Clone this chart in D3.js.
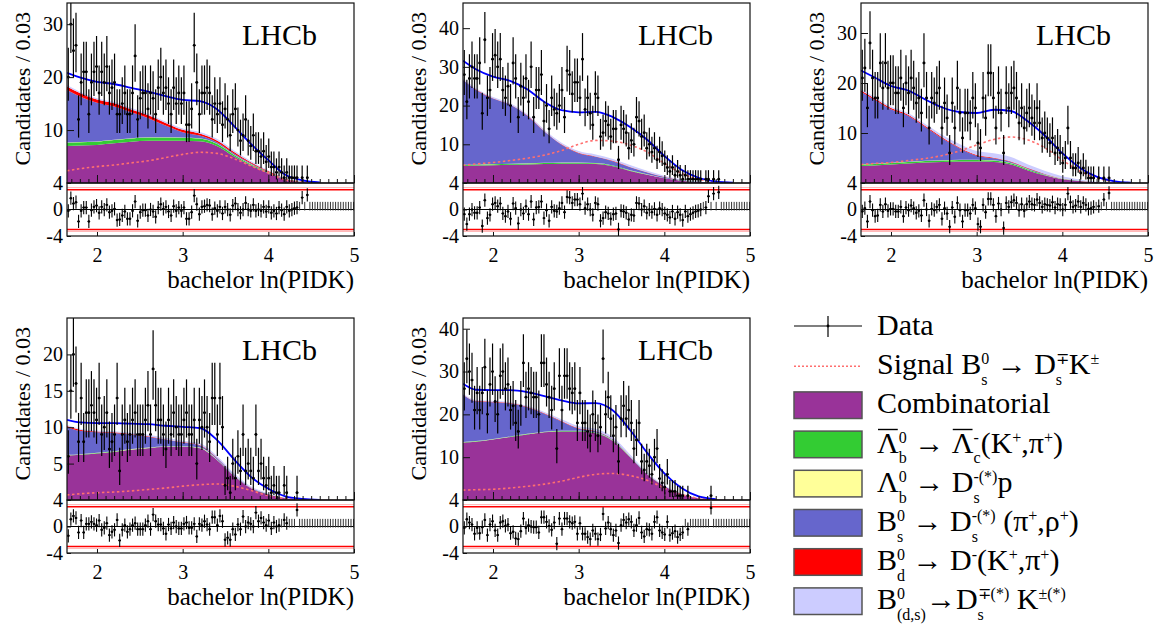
<!DOCTYPE html>
<html><head><meta charset="utf-8">
<script src="https://cdn.jsdelivr.net/npm/d3@7"></script>
<style>
body{margin:0;background:#fff;}
svg{display:block;}
text{font-family:"Liberation Serif","Times New Roman",serif;fill:#000;white-space:pre;}
</style>
</head><body>
<svg id="c" width="1160" height="625"></svg>
<script>
// ---------------- DATA ----------------
const xMin = 1.65, xMax = 5.0, binWidth = 0.03;
const xTicks = [2, 3, 4, 5];
const resTicks = [4, 0, -4];
const pullLines = [3, -3];
const gridX = [1.65, 1.8, 2.0, 2.2, 2.4, 2.6, 2.8, 3.0, 3.2, 3.4, 3.6, 3.8, 4.0, 4.2, 4.4, 4.6, 4.8, 5.0];

// Panel 1 fit components (Candidates / 0.03 at gridX)
const comb1   = [7.0, 7.1, 7.2, 7.5, 7.8, 8.0, 8.0, 8.0, 7.9, 7.0, 5.0, 3.3, 1.9, 0.7, 0.2, 0.05, 0, 0];
const lamc1   = [0.6, 0.6, 0.6, 0.6, 0.6, 0.6, 0.6, 0.55, 0.5, 0.4, 0.3, 0.2, 0.12, 0.05, 0.02, 0, 0, 0];
const lamds1  = [0.05, 0.05, 0.05, 0.05, 0.05, 0.05, 0.05, 0.05, 0.05, 0.05, 0.05, 0.03, 0.02, 0.01, 0, 0, 0, 0];
const bsdspi1 = [9.9, 8.6, 7.3, 6.3, 4.9, 3.6, 2.2, 1.0, 0.5, 0.25, 0.2, 0.15, 0.1, 0.05, 0.02, 0, 0, 0];
const bddk1   = [0.7, 0.65, 0.6, 0.6, 0.55, 0.55, 0.5, 0.45, 0.4, 0.35, 0.3, 0.2, 0.12, 0.05, 0.02, 0, 0, 0];
const dsk1    = [0.25, 0.25, 0.25, 0.25, 0.25, 0.25, 0.25, 0.25, 0.3, 0.3, 0.3, 0.25, 0.15, 0.08, 0.03, 0, 0, 0];
const sig1    = [2.3, 2.7, 3.1, 3.4, 3.8, 4.2, 4.8, 5.4, 5.8, 5.6, 4.6, 3.2, 1.9, 0.6, 0.2, 0.05, 0, 0];

// Panel 2
const comb2   = [4.4, 4.5, 4.6, 4.7, 4.8, 4.9, 5.0, 5.0, 4.9, 4.3, 3.1, 2.1, 1.2, 0.6, 0.25, 0.07, 0.02, 0];
const lamc2   = [0.25, 0.25, 0.25, 0.25, 0.25, 0.25, 0.25, 0.25, 0.22, 0.2, 0.15, 0.1, 0.06, 0.03, 0.01, 0, 0, 0];
const lamds2  = [0.05, 0.05, 0.05, 0.05, 0.05, 0.05, 0.05, 0.05, 0.05, 0.05, 0.05, 0.04, 0.02, 0.01, 0, 0, 0, 0];
const bsdspi2 = [21.9, 19.3, 16.9, 15.2, 12.3, 8.1, 4.6, 2.4, 1.6, 1.1, 0.8, 0.5, 0.3, 0.15, 0.05, 0, 0, 0];
const bddk2   = [0.1, 0.1, 0.1, 0.1, 0.1, 0.1, 0.1, 0.1, 0.1, 0.08, 0.06, 0.04, 0.02, 0.01, 0, 0, 0, 0];
const dsk2    = [0.3, 0.3, 0.3, 0.3, 0.3, 0.35, 0.4, 0.45, 0.5, 0.5, 0.5, 0.4, 0.3, 0.15, 0.05, 0.02, 0, 0];
const sig2    = [4.6, 4.9, 5.3, 5.8, 6.4, 7.2, 8.4, 10.0, 11.0, 10.8, 9.8, 8.0, 5.1, 2.5, 1.0, 0.3, 0.05, 0];

// Panel 3
const comb3   = [3.4, 3.5, 3.7, 3.9, 4.1, 4.2, 4.3, 4.3, 4.2, 3.7, 2.5, 1.5, 0.75, 0.4, 0.15, 0.04, 0, 0];
const lamc3   = [0.3, 0.3, 0.3, 0.3, 0.3, 0.3, 0.3, 0.3, 0.28, 0.25, 0.2, 0.12, 0.06, 0.03, 0.01, 0, 0, 0];
const lamds3  = [0.05, 0.05, 0.05, 0.05, 0.05, 0.05, 0.05, 0.05, 0.05, 0.05, 0.05, 0.03, 0.02, 0.01, 0, 0, 0, 0];
const bsdspi3 = [14.5, 12.9, 10.7, 9.2, 6.75, 4.35, 2.3, 0.8, 0.4, 0.2, 0.15, 0.1, 0.05, 0.02, 0, 0, 0, 0];
const bddk3   = [0.25, 0.25, 0.25, 0.2, 0.2, 0.2, 0.15, 0.15, 0.12, 0.1, 0.08, 0.05, 0.03, 0.01, 0, 0, 0, 0];
const dsk3    = [0.3, 0.3, 0.3, 0.35, 0.4, 0.5, 0.7, 0.8, 0.9, 0.9, 0.7, 0.6, 0.45, 0.25, 0.1, 0.03, 0, 0];
const sig3    = [3.7, 3.9, 4.1, 4.5, 4.9, 5.5, 6.4, 7.6, 8.7, 9.2, 8.6, 7.0, 4.6, 2.4, 1.0, 0.3, 0.05, 0];

// Panel 4
const comb4   = [6.1, 6.2, 6.4, 6.6, 6.9, 7.1, 7.3, 7.3, 7.1, 5.5, 3.3, 1.6, 0.8, 0.25, 0.07, 0.02, 0, 0];
const lamc4   = [0.05, 0.05, 0.05, 0.05, 0.05, 0.05, 0.05, 0.05, 0.05, 0.04, 0.03, 0.02, 0.01, 0, 0, 0, 0, 0];
const lamds4  = [0.05, 0.05, 0.05, 0.05, 0.05, 0.05, 0.05, 0.05, 0.05, 0.04, 0.03, 0.02, 0.01, 0, 0, 0, 0, 0];
const bsdspi4 = [3.8, 3.2, 2.8, 2.5, 2.0, 1.5, 0.9, 0.5, 0.3, 0.2, 0.1, 0.05, 0.02, 0, 0, 0, 0, 0];
const bddk4   = [0.15, 0.15, 0.1, 0.1, 0.08, 0.06, 0.05, 0.05, 0.04, 0.03, 0.02, 0.01, 0, 0, 0, 0, 0, 0];
const dsk4    = [0.15, 0.15, 0.15, 0.15, 0.15, 0.2, 0.2, 0.2, 0.25, 0.25, 0.2, 0.15, 0.1, 0.05, 0.02, 0, 0, 0];
const sig4    = [0.7, 0.85, 1.0, 1.1, 1.25, 1.45, 1.65, 1.9, 2.1, 2.2, 1.9, 1.3, 0.6, 0.2, 0.06, 0.01, 0, 0];

// Panel 5
const comb5   = [13.4, 13.6, 14.1, 14.7, 15.3, 15.8, 16.0, 16.0, 15.6, 13.8, 10.0, 6.0, 3.2, 1.4, 0.4, 0.1, 0, 0];
const lamc5   = [0.1, 0.1, 0.1, 0.1, 0.1, 0.1, 0.1, 0.1, 0.1, 0.08, 0.06, 0.04, 0.02, 0.01, 0, 0, 0, 0];
const lamds5  = [0.05, 0.05, 0.05, 0.05, 0.05, 0.05, 0.05, 0.05, 0.05, 0.05, 0.04, 0.03, 0.02, 0.01, 0, 0, 0, 0];
const bsdspi5 = [11.0, 9.3, 8.6, 7.7, 6.2, 4.2, 2.2, 0.5, 0.3, 0.2, 0.1, 0.05, 0.02, 0, 0, 0, 0, 0];
const bddk5   = [0.1, 0.1, 0.1, 0.1, 0.1, 0.1, 0.1, 0.1, 0.08, 0.06, 0.04, 0.03, 0.02, 0.01, 0, 0, 0, 0];
const dsk5    = [0.2, 0.2, 0.2, 0.2, 0.25, 0.3, 0.4, 0.5, 0.5, 0.5, 0.4, 0.25, 0.15, 0.08, 0.03, 0, 0, 0];
const sig5    = [2.3, 2.4, 2.5, 2.8, 3.2, 3.7, 4.4, 5.3, 6.0, 6.2, 5.7, 4.6, 2.8, 1.3, 0.4, 0.1, 0, 0];

// Data: counts per 0.03 bin, starting at ln(PIDK) = 1.65
const data1 = [20,30,25,26,12,19,21,21,13,19, 21,22,17,21,19,22,17,18,19,13, 13,15,17,13,13,17,24,12,16,17,
  17,14,17,16,13,18,20,17,18,15, 13,18,15,17,15,17,11,11,14,26, 19,13,17,17,18,17,12,15,13,15,
  11,14,12,9,13,14,10,8,9,12, 8,7,9,6,6,5,6,4,5,3, 3,2,3,2,1,2,1,1,1,1, 0,1,0,1];
const data2 = [28,21,27,30,27,27,31,18,37,22, 24,32,33,30,32,24,22,25,20,31, 27,17,25,22,27,21,30,17,24,24,
  28,16,20,14,22,19,18,20,24,17, 29,28,23,26,26,22,32,19,22,18, 15,23,22,12,13,16,15,12,14,14,
  6,15,14,13,9,11,10,17,16,12, 13,9,10,8,9,6,8,7,5,4, 3,4,2,3,2,1,2,1,1,1, 1,1,1,0,1,1,0,1,0,1];
const data3 = [21,23,15,28,21,17,17,24,19,24, 19,20,20,18,18,21,15,20,18,21, 19,16,17,14,24,17,11,17,16,18,
  19,11,16,13,6,16,11,19,14,9, 14,14,12,17,15,8,7,17,13,22, 22,17,11,18,14,6,18,15,18,19,
  17,12,15,11,14,15,13,12,15,12, 9,10,9,8,9,6,7,6,4,5, 11,5,3,3,4,2,3,2,1,1, 1,0,1,0,1,0,1];
const data4 = [6,15,20,16,8,14,8,12,12,13, 12,11,14,9,10,12,7,8,9,14, 4,9,11,8,9,11,12,9,9,9,
  11,13,9,18,13,11,11,9,7,11, 9,12,10,9,9,11,12,9,9,11, 5,11,10,12,10,8,14,14,9,14,
  10,2,3,1,5,3,6,4,9,4, 5,4,3,9,4,5,3,2,3,1, 2,1,1,0,2,1,0,0,0,1];
const data5 = [26,33,30,28,21,25,21,25,31,20, 27,30,23,20,29,30,26,27,21,22, 18,16,22,32,24,26,25,24,24,20,
  32,32,27,24,21,26,12,29,21,29, 29,26,25,26,18,25,18,18,16,15, 20,18,15,17,33,20,24,19,15,17,
  9,19,22,19,21,18,12,14,18,9, 7,9,8,6,10,12,5,4,3,6, 2,2,2,1,1,1,0,1,0,0, 0,0,0,0,0,0,1];

// Pulls per bin (null = empty bin)
const pull1 = [-0.2,1.7,0.9,1.1,-1.8,-0.2,0.3,0.3,-1.8,-0.1, 0.4,0.6,-0.5,0.4,0,0.7,-0.4,-0.2,0.1,-1.6,
  -1.5,-0.9,-0.3,-1.4,-1.4,-0.2,1.2,-1.7,-0.4,-0.1, -0.1,-0.9,0,-0.3,-1.1,0.3,0.8,0.1,0.4,-0.3,
  -0.9,0.5,-0.2,0.3,-0.2,0.3,-1.4,-1.4,-0.4,2.1, 0.8,-0.7,0.4,0.5,0.7,0.6,-0.7,0.2,-0.2,0.4,
  -0.6,0.4,0,-0.8,0.6,0.9,0,-0.5,0,1.0, 0,-0.2,0.7,-0.2,0,-0.2,0.4,-0.3,0.4,-0.5,
  -0.2,-0.6,0.3,-0.1,-0.7,0.4,-0.2,0,0.2,0.3, null,1.8,null,2.2,null,null,null,null,null,null,
  null,null,null,null,null,null,null,null,null,null, null,null];
const pull2 = [-0.7,-2.2,-0.7,0,-0.5,-0.5,0.3,-2.5,1.4,-1.3, -0.8,0.8,1.0,0.5,0.9,-0.6,-1.0,-0.3,-1.4,0.9,
  0.2,-2.1,0,-0.6,0.5,-0.7,1.2,-1.5,0.3,0.4, 1.2,-1.3,-0.1,-1.7,0.4,-0.2,-0.3,0.2,1.0,-0.4,
  1.9,1.8,1.0,1.5,1.5,0.8,2.4,0.2,0.8,0, -0.8,1.0,0.8,-1.7,-1.3,-0.4,-0.6,-1.4,-0.7,-0.6,
  -3.0,-0.2,-0.3,-0.5,-1.5,-0.8,-0.9,1.0,0.9,0, 0.5,-0.5,0,-0.4,0.1,-0.8,0.2,0,-0.6,-0.8,
  -1.2,-0.3,-1.4,-0.4,-0.8,-1.6,-0.3,-1.0,-0.7,-0.5, -0.3,-0.2,0,null,0.3,2.0,null,2.4,null,2.6,
  null,null,null,null,null,null,null,null,null,null, null,null];
const pull3 = [-0.3,0.2,-1.8,1.2,-0.1,-1.0,-0.9,0.7,-0.3,0.8, -0.2,0.1,0.1,-0.3,-0.3,0.4,-1.0,0.3,-0.1,0.6,
  0.2,-0.5,-0.2,-0.9,1.4,0,-1.7,0.1,-0.1,0.4, 0.7,-1.4,0.2,-0.6,-2.6,0.3,-1.1,1.0,-0.1,-1.8,
  -0.1,-0.1,-0.6,0.7,0.2,-2.2,-2.6,0.7,-0.4,1.6, 1.6,0.7,-1.0,0.9,0,-2.8,1.0,0.4,1.1,1.4,
  1.0,-0.1,0.8,-0.2,0.8,1.2,0.8,0.7,1.5,1.0, 0.4,0.8,0.7,0.6,1.1,0.3,0.8,0.7,0,0.7,
  2.4,1.1,0.4,0.6,1.2,0.4,1.0,0.7,0.1,0.2, 0.4,null,0.5,null,1.5,null,2.5,null,null,null,
  null,null,null,null,null,null,null,null,null,null, null,null];
const pull4 = [-1.4,1.1,1.6,1.3,-0.9,0.9,-0.9,0.4,0.4,0.7, 0.4,0.2,0.9,-0.5,-0.2,0.5,-1.3,-0.8,-0.5,1.0,
  -2.1,-0.5,0.2,-0.8,-0.4,0.2,0.5,-0.4,-0.4,-0.4, 0.2,0.8,-0.4,1.8,0.8,0.3,0.3,-0.3,-1.1,0.3,
  -0.3,0.6,0,-0.3,-0.3,0.4,0.6,-0.2,-0.2,0.4, -1.5,0.4,0.2,0.8,0.3,-0.4,1.4,1.4,0.2,1.6,
  0.8,-2.0,-1.7,-2.0,-0.4,-1.2,0.3,-0.4,1.5,0, 0.6,0.4,0,2.1,0.8,1.3,0.6,0.2,0.9,-0.3,
  0.6,0,0.2,null,1.0,0.5,null,null,null,2.5, null,null,null,null,null,null,null,null,null,null,
  null,null,null,null,null,null,null,null,null,null, null,null];
const pull5 = [-0.2,1.1,0.6,0.3,-1.1,-0.2,-1.0,-0.1,1.0,-1.3, 0.3,0.8,-0.6,-1.3,0.6,0.8,0.1,0.3,-1.0,-0.8,
  -1.8,-1.9,-0.7,1.2,-0.2,0.2,0,-0.1,-0.1,-0.9, 1.4,1.4,0.7,0.1,-0.5,0.6,-2.6,1.2,-0.4,1.2,
  1.2,0.7,0.5,0.7,-1.1,0.5,-1.1,-1.1,-1.6,-1.9, -0.6,-1.1,-1.9,-1.2,1.9,-0.3,0.6,-0.4,-1.3,-0.6,
  -2.5,0.2,1.0,0.6,1.1,0.7,-0.6,0.2,1.3,-0.9, -1.5,-0.4,-0.5,-1.1,0.7,1.4,-0.6,-0.9,-1.2,0.7,
  -1.3,-1.0,-0.7,-1.6,-1.2,-0.9,null,-0.4,null,null, null,null,null,null,null,null,2.8,null,null,null,
  null,null,null,null,null,null,null,null,null,null, null,null];

const yMaxes = [34, 46.5, 36, 25, 42.5];
const yTickSets = [[10, 20, 30], [10, 20, 30, 40], [10, 20, 30], [5, 10, 15, 20], [10, 20, 30, 40]];

const compKeys = ['comb', 'lamc', 'lamds', 'bsdspi', 'bddk', 'dsk'];
const compColors = {comb: '#993399', lamc: '#33cc33', lamds: '#ffff99', bsdspi: '#6666cc', bddk: '#ff0000', dsk: '#ccccff'};

const panels = [
  {col: 0, row: 0, comb: comb1, lamc: lamc1, lamds: lamds1, bsdspi: bsdspi1, bddk: bddk1, dsk: dsk1, sig: sig1, data: data1, pull: pull1},
  {col: 1, row: 0, comb: comb2, lamc: lamc2, lamds: lamds2, bsdspi: bsdspi2, bddk: bddk2, dsk: dsk2, sig: sig2, data: data2, pull: pull2},
  {col: 2, row: 0, comb: comb3, lamc: lamc3, lamds: lamds3, bsdspi: bsdspi3, bddk: bddk3, dsk: dsk3, sig: sig3, data: data3, pull: pull3},
  {col: 0, row: 1, comb: comb4, lamc: lamc4, lamds: lamds4, bsdspi: bsdspi4, bddk: bddk4, dsk: dsk4, sig: sig4, data: data4, pull: pull4},
  {col: 1, row: 1, comb: comb5, lamc: lamc5, lamds: lamds5, bsdspi: bsdspi5, bddk: bddk5, dsk: dsk5, sig: sig5, data: data5, pull: pull5}
];

// legend
const legendLabels = [
  [["Data", "n"]],
  [["Signal B", "n"], [["0", "s"], "ss"], [" \u2192 D", "n"], [["\u2213", "s"], "ss"], ["K", "n"], ["\u00b1", "sup"]],
  [["Combinatorial", "n"]],
  [["\u039b", "ol"], [["0", "b"], "ss"], [" \u2192 ", "n"], ["\u039b", "ol"], [["-", "c"], "ss"], ["(K", "n"], ["+", "sup"], [",\u03c0", "n"], ["+", "sup"], [")", "n"]],
  [["\u039b", "n"], [["0", "b"], "ss"], [" \u2192 D", "n"], [["-(*)", "s"], "ss"], ["p", "n"]],
  [["B", "n"], [["0", "s"], "ss"], [" \u2192 D", "n"], [["-(*)", "s"], "ss"], [" (\u03c0", "n"], ["+", "sup"], [",\u03c1", "n"], ["+", "sup"], [")", "n"]],
  [["B", "n"], [["0", "d"], "ss"], [" \u2192 D", "n"], ["-", "sup"], ["(K", "n"], ["+", "sup"], [",\u03c0", "n"], ["+", "sup"], [")", "n"]],
  [["B", "n"], [["0", "(d,s)"], "ss"], ["\u2192D", "n"], [["\u2213(*)", "s"], "ss"], [" K", "n"], ["\u00b1(*)", "sup"]]
];
const legendKinds = ['data', 'signal', 'comb', 'lamc', 'lamds', 'bsdspi', 'bddk', 'dsk'];

// ---------------- LAYOUT ----------------
const W = 287;
const cols = [67, 463, 861];
const rows = [{top: 3, mainH: 180, resH: 53}, {top: 318, mainH: 182, resH: 53}];
const FONT = '"Liberation Serif","Times New Roman",serif';

const svg = d3.select('#c');
const defs = svg.append('defs');

panels.forEach((p, pi) => {
  const L = rows[p.row], x0 = cols[p.col];
  const top = L.top, mb = top + L.mainH, rb = mb + L.resH;
  const x = d3.scaleLinear([xMin, xMax], [x0, x0 + W]);
  const y = d3.scaleLinear([0, yMaxes[pi]], [mb, top]);
  const r = d3.scaleLinear([-4, 4], [rb, mb]);
  const g = svg.append('g');

  defs.append('clipPath').attr('id', 'cm' + pi).append('rect')
    .attr('x', x0).attr('y', top).attr('width', W).attr('height', L.mainH);
  defs.append('clipPath').attr('id', 'cr' + pi).append('rect')
    .attr('x', x0).attr('y', mb).attr('width', W).attr('height', L.resH);

  // stacked fit components
  const recs = gridX.map((gx, i) => {
    const o = {x: gx};
    compKeys.forEach(k => o[k] = p[k][i]);
    return o;
  });
  const series = d3.stack().keys(compKeys)(recs);
  const area = d3.area()
    .x(d => x(d.data.x)).y0(d => y(d[0])).y1(d => y(d[1]))
    .curve(d3.curveMonotoneX);
  const gm = g.append('g').attr('clip-path', `url(#cm${pi})`);
  series.forEach(s => {
    gm.append('path').attr('d', area(s)).attr('fill', compColors[s.key]);
  });

  const line = d3.line().x(d => x(d[0])).y(d => y(d[1]))
    .defined(d => d[1] > 0.001).curve(d3.curveMonotoneX);
  // signal
  gm.append('path')
    .attr('d', line(gridX.map((gx, i) => [gx, p.sig[i]])))
    .attr('fill', 'none').attr('stroke', '#ff6f6f').attr('stroke-width', 1.6)
    .attr('stroke-dasharray', '2.5,2.5');
  // total fit
  const topSeries = series[series.length - 1];
  gm.append('path')
    .attr('d', line(gridX.map((gx, i) => [gx, topSeries[i][1] + p.sig[i]])))
    .attr('fill', 'none').attr('stroke', '#0000ff').attr('stroke-width', 1.8);

  // data points
  const gd = gm.append('g').attr('stroke', '#000').attr('stroke-width', 1.2);
  p.data.forEach((n, k) => {
    if (!(n > 0)) return;
    const lo = xMin + binWidth * k, hi = lo + binWidth, c = lo + binWidth / 2;
    const up = Math.sqrt(n + 0.75) + 1, dn = Math.sqrt(n - 0.25);
    gd.append('line').attr('x1', x(c)).attr('x2', x(c)).attr('y1', y(n - dn)).attr('y2', y(n + up));
    gd.append('line').attr('x1', x(lo)).attr('x2', x(hi)).attr('y1', y(n)).attr('y2', y(n));
    gd.append('circle').attr('cx', x(c)).attr('cy', y(n)).attr('r', 1.4).attr('fill', '#000').attr('stroke', 'none');
  });

  // residual panel
  const gr = g.append('g').attr('clip-path', `url(#cr${pi})`);
  pullLines.forEach(v => {
    gr.append('line').attr('x1', x0).attr('x2', x0 + W).attr('y1', r(v)).attr('y2', r(v))
      .attr('stroke', '#ff0000').attr('stroke-width', 1.5);
    gr.append('line').attr('x1', x0).attr('x2', x0 + W).attr('y1', r(v) + (v < 0 ? 2 : -2)).attr('y2', r(v) + (v < 0 ? 2 : -2))
      .attr('stroke', '#ffb0b0').attr('stroke-width', 1);
  });
  gr.append('line').attr('x1', x0).attr('x2', x0 + W).attr('y1', r(0)).attr('y2', r(0))
    .attr('stroke', '#000').attr('stroke-width', 1.2);
  const gp = gr.append('g').attr('stroke', '#000').attr('stroke-width', 1.1);
  p.pull.forEach((v, k) => {
    const lo = xMin + binWidth * k, hi = lo + binWidth, c = lo + binWidth / 2;
    if (v === null) {
      gp.append('line').attr('x1', x(c)).attr('x2', x(c)).attr('y1', r(-0.15)).attr('y2', r(1.15))
        .attr('stroke', '#333').attr('stroke-width', 1);
      return;
    }
    gp.append('line').attr('x1', x(c)).attr('x2', x(c)).attr('y1', r(v - 1)).attr('y2', r(v + 1));
    gp.append('line').attr('x1', x(lo)).attr('x2', x(hi)).attr('y1', r(v)).attr('y2', r(v));
    gp.append('circle').attr('cx', x(c)).attr('cy', r(v)).attr('r', 1.2).attr('fill', '#000').attr('stroke', 'none');
  });

  // frames
  g.append('rect').attr('x', x0).attr('y', top).attr('width', W).attr('height', L.mainH)
    .attr('fill', 'none').attr('stroke', '#111').attr('stroke-width', 1.2);
  g.append('rect').attr('x', x0).attr('y', mb).attr('width', W).attr('height', L.resH)
    .attr('fill', 'none').attr('stroke', '#111').attr('stroke-width', 1.2);

  const styleAxis = a => {
    a.select('.domain').remove();
    a.attr('font-family', FONT).attr('font-size', 20);
    a.selectAll('.tick line').attr('stroke', '#111');
  };
  // main x ticks (inward)
  g.append('g').attr('transform', `translate(0,${mb})`)
    .call(d3.axisBottom(x).tickValues(x.ticks(40)).tickSize(-4).tickFormat(''))
    .call(styleAxis);
  g.append('g').attr('transform', `translate(0,${mb})`)
    .call(d3.axisBottom(x).tickValues(xTicks).tickSize(-8).tickFormat(''))
    .call(styleAxis);
  // residual x axis with labels
  g.append('g').attr('transform', `translate(0,${rb})`)
    .call(d3.axisBottom(x).tickValues(xTicks).tickSizeInner(-4).tickSizeOuter(0).tickPadding(12).tickFormat(d3.format('d')))
    .call(styleAxis);
  // main y axis
  g.append('g').attr('transform', `translate(${x0},0)`)
    .call(d3.axisLeft(y).tickValues(yTickSets[pi]).tickSize(-7).tickPadding(4))
    .call(styleAxis);
  // residual y axis
  g.append('g').attr('transform', `translate(${x0},0)`)
    .call(d3.axisLeft(r).tickValues(resTicks).tickSize(-4).tickPadding(4).tickFormat(d => String(d)))
    .call(styleAxis);

  // titles
  g.append('text').attr('x', x0 + W).attr('y', rb + 52).attr('text-anchor', 'end')
    .attr('font-size', 25).text('bachelor ln(PIDK)');
  g.append('text').attr('transform', `translate(${x0 - 37},${top + 9}) rotate(-90)`)
    .attr('text-anchor', 'end').attr('font-size', 22).text('Candidates / 0.03');
  g.append('text').attr('x', x0 + W - 37).attr('y', top + 42).attr('text-anchor', 'end')
    .attr('font-size', 30).text('LHCb');
});

// ---------------- LEGEND ----------------
function rich(parent, x, yb, segs, size) {
  let cx = x;
  const small = 16;
  const supDy = -10, subDy = 10.8;
  segs.forEach(([t, mode]) => {
    if (mode === 'n' || mode === 'ol') {
      const el = parent.append('text').attr('x', cx).attr('y', yb).attr('font-size', size).text(t);
      const w = el.node().getComputedTextLength();
      if (mode === 'ol') {
        parent.append('line').attr('x1', cx + 1).attr('x2', cx + w - 1)
          .attr('y1', yb - size * 0.77).attr('y2', yb - size * 0.77)
          .attr('stroke', '#000').attr('stroke-width', 1.4);
      }
      cx += w;
    } else if (mode === 'sup' || mode === 'sub') {
      const el = parent.append('text').attr('x', cx)
        .attr('y', yb + (mode === 'sup' ? supDy : subDy))
        .attr('font-size', small).text(t);
      cx += el.node().getComputedTextLength();
    } else if (mode === 'ss') {
      const a = parent.append('text').attr('x', cx).attr('y', yb + supDy).attr('font-size', small).text(t[0]);
      const b = parent.append('text').attr('x', cx).attr('y', yb + subDy).attr('font-size', small).text(t[1]);
      cx += Math.max(a.node().getComputedTextLength(), b.node().getComputedTextLength());
    }
  });
}

const lg = svg.append('g');
const legX0 = 794, legX1 = 862, legTextX = 877, legY0 = 335, legStep = 39.2;
legendKinds.forEach((kind, i) => {
  const yb = legY0 + i * legStep;
  if (kind === 'data') {
    const yc = yb - 9;
    lg.append('line').attr('x1', legX0).attr('x2', legX1).attr('y1', yc).attr('y2', yc).attr('stroke', '#000').attr('stroke-width', 1.2);
    lg.append('line').attr('x1', (legX0 + legX1) / 2).attr('x2', (legX0 + legX1) / 2).attr('y1', yc - 10).attr('y2', yc + 11).attr('stroke', '#000').attr('stroke-width', 1.2);
    lg.append('circle').attr('cx', (legX0 + legX1) / 2).attr('cy', yc).attr('r', 1.4).attr('fill', '#000');
  } else if (kind === 'signal') {
    const yc = yb - 8;
    lg.append('line').attr('x1', legX0).attr('x2', legX1).attr('y1', yc).attr('y2', yc)
      .attr('stroke', '#ff6f6f').attr('stroke-width', 1.6).attr('stroke-dasharray', '2,2');
  } else {
    lg.append('rect').attr('x', legX0).attr('y', yb - 21.5).attr('width', legX1 - legX0).attr('height', 26.6)
      .attr('fill', compColors[kind]).attr('stroke', '#555').attr('stroke-width', 1.5);
  }
  rich(lg, legTextX, yb, legendLabels[i], 30);
});
</script>
</body></html>
